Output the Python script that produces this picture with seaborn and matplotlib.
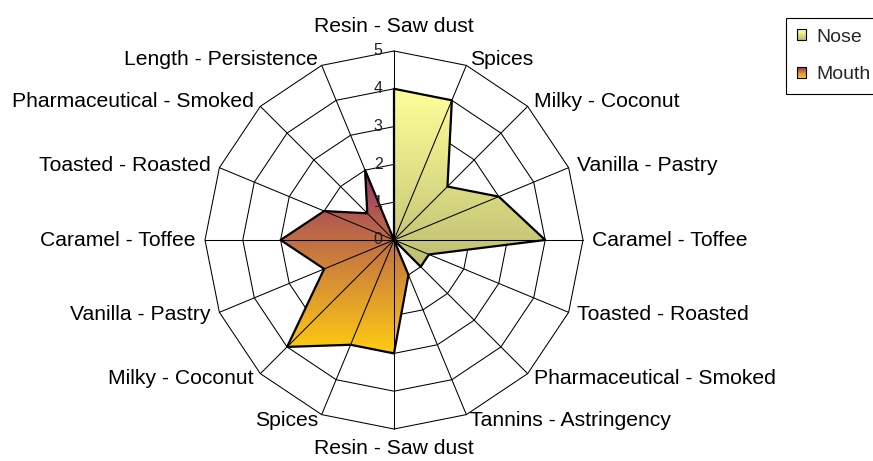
import numpy as np
import matplotlib
matplotlib.use("Agg")
from matplotlib import pyplot
from matplotlib.patches import Polygon, Rectangle
from matplotlib.colors import LinearSegmentedColormap
from matplotlib.legend_handler import HandlerBase
import seaborn as sns

categories = ["Resin - Saw dust", "Spices", "Milky - Coconut", "Vanilla - Pastry",
              "Caramel - Toffee", "Toasted - Roasted", "Pharmaceutical - Smoked",
              "Tannins - Astringency", "Resin - Saw dust", "Spices", "Milky - Coconut",
              "Vanilla - Pastry", "Caramel - Toffee", "Toasted - Roasted",
              "Pharmaceutical - Smoked", "Length - Persistence"]
nose = [4, 4, 2, 3, 4, 1, 1, 0, 0, 0, 0, 0, 0, 0, 0, 0]
mouth = [0, 0, 0, 0, 0, 0, 0, 1, 3, 3, 4, 2, 3, 2, 1, 2]
ticks = [0, 1, 2, 3, 4, 5]
series_names = ["Nose", "Mouth"]

nose_cmap = LinearSegmentedColormap.from_list("nose", ["#FFFF99", "#BEBE72"])
mouth_cmap = LinearSegmentedColormap.from_list("mouth", ["#993366", "#FFCC11"])


class GradientHandler(HandlerBase):
    def __init__(self, cmap):
        super().__init__()
        self.cmap = cmap

    def create_artists(self, legend, orig_handle, xdescent, ydescent, width, height, fontsize, trans):
        n = 10
        arts = []
        for i in range(n):
            arts.append(Rectangle((-xdescent, -ydescent + height * (n - 1 - i) / n), width, height / n,
                                  facecolor=self.cmap(i / (n - 1)), edgecolor="none", transform=trans))
        arts.append(Rectangle((-xdescent, -ydescent), width, height, facecolor="none",
                              edgecolor="black", lw=0.8, transform=trans))
        return arts


def to_xy(values):
    theta = np.arange(len(values)) * 2 * np.pi / len(values)
    v = np.asarray(values, dtype=float)
    return v * np.sin(theta), v * np.cos(theta)


def gradient_fill(ax, values, cmap):
    x, y = to_xy(values)
    poly = Polygon(np.column_stack([x, y]), closed=True, facecolor="none", edgecolor="none")
    ax.add_patch(poly)
    grad = np.linspace(0, 1, 256).reshape(-1, 1)
    im = ax.imshow(grad, cmap=cmap, aspect="auto", origin="upper",
                   extent=(x.min(), x.max(), y.min(), y.max()), zorder=2, interpolation="bilinear")
    im.set_clip_path(poly)
    xs = np.append(x, x[0])
    ys = np.append(y, y[0])
    sns.lineplot(x=xs, y=ys, sort=False, estimator=None, color="black", lw=1.6, ax=ax, zorder=4)


sns.set_theme(style="white")
pyplot.rcParams["font.family"] = ["Liberation Sans", "DejaVu Sans"]

fig = pyplot.figure(figsize=(8.73, 4.61), dpi=100)
ax = fig.add_axes([0, 0, 1, 1])
unit = 37.8
cx, cy = 394, 240
ax.set_xlim(-cx / unit, (873 - cx) / unit)
ax.set_ylim(-(461 - cy) / unit, cy / unit)
ax.axis("off")

n = len(categories)
rmax = ticks[-1]

# rings
for t in ticks[1:]:
    x, y = to_xy([t] * n)
    ax.plot(np.append(x, x[0]), np.append(y, y[0]), color="black", lw=0.75, zorder=1)

gradient_fill(ax, nose, nose_cmap)
gradient_fill(ax, mouth, mouth_cmap)

# spokes
sx, sy = to_xy([rmax] * n)
for x, y in zip(sx, sy):
    ax.plot([0, x], [0, y], color="black", lw=0.75, zorder=3)

# value labels
for t in ticks:
    ax.text(-0.3, t, str(t), ha="right", va="center", fontsize=11.5, color="#222222", zorder=5)

# category labels
lx, ly = to_xy([5.25] * n)
for i, lab in enumerate(categories):
    s, c = lx[i] / 5.25, ly[i] / 5.25
    if abs(s) < 0.01:
        ha = "center"
        va = "bottom" if c > 0 else "top"
        x, y = 0, (5.4 if c > 0 else -5.27)
    else:
        ha = "left" if s > 0 else "right"
        va = "center"
        x, y = lx[i], ly[i] - 0.08 * c
    ax.text(x, y, lab, ha=ha, va=va, fontsize=15.2, color="black")

handles = [Rectangle((0, 0), 1, 1), Rectangle((0, 0), 1, 1)]
leg = fig.legend(handles, series_names, loc="upper left", bbox_to_anchor=(786 / 873, 1 - 18 / 461),
                 fontsize=14, frameon=True, fancybox=False, framealpha=1, edgecolor="black",
                 borderpad=0.55, handlelength=0.5, handleheight=0.5, handletextpad=0.5,
                 labelspacing=1.05, borderaxespad=0,
                 handler_map={handles[0]: GradientHandler(nose_cmap), handles[1]: GradientHandler(mouth_cmap)})
leg.get_frame().set_linewidth(0.8)

fig.savefig("out.png", dpi=100)
